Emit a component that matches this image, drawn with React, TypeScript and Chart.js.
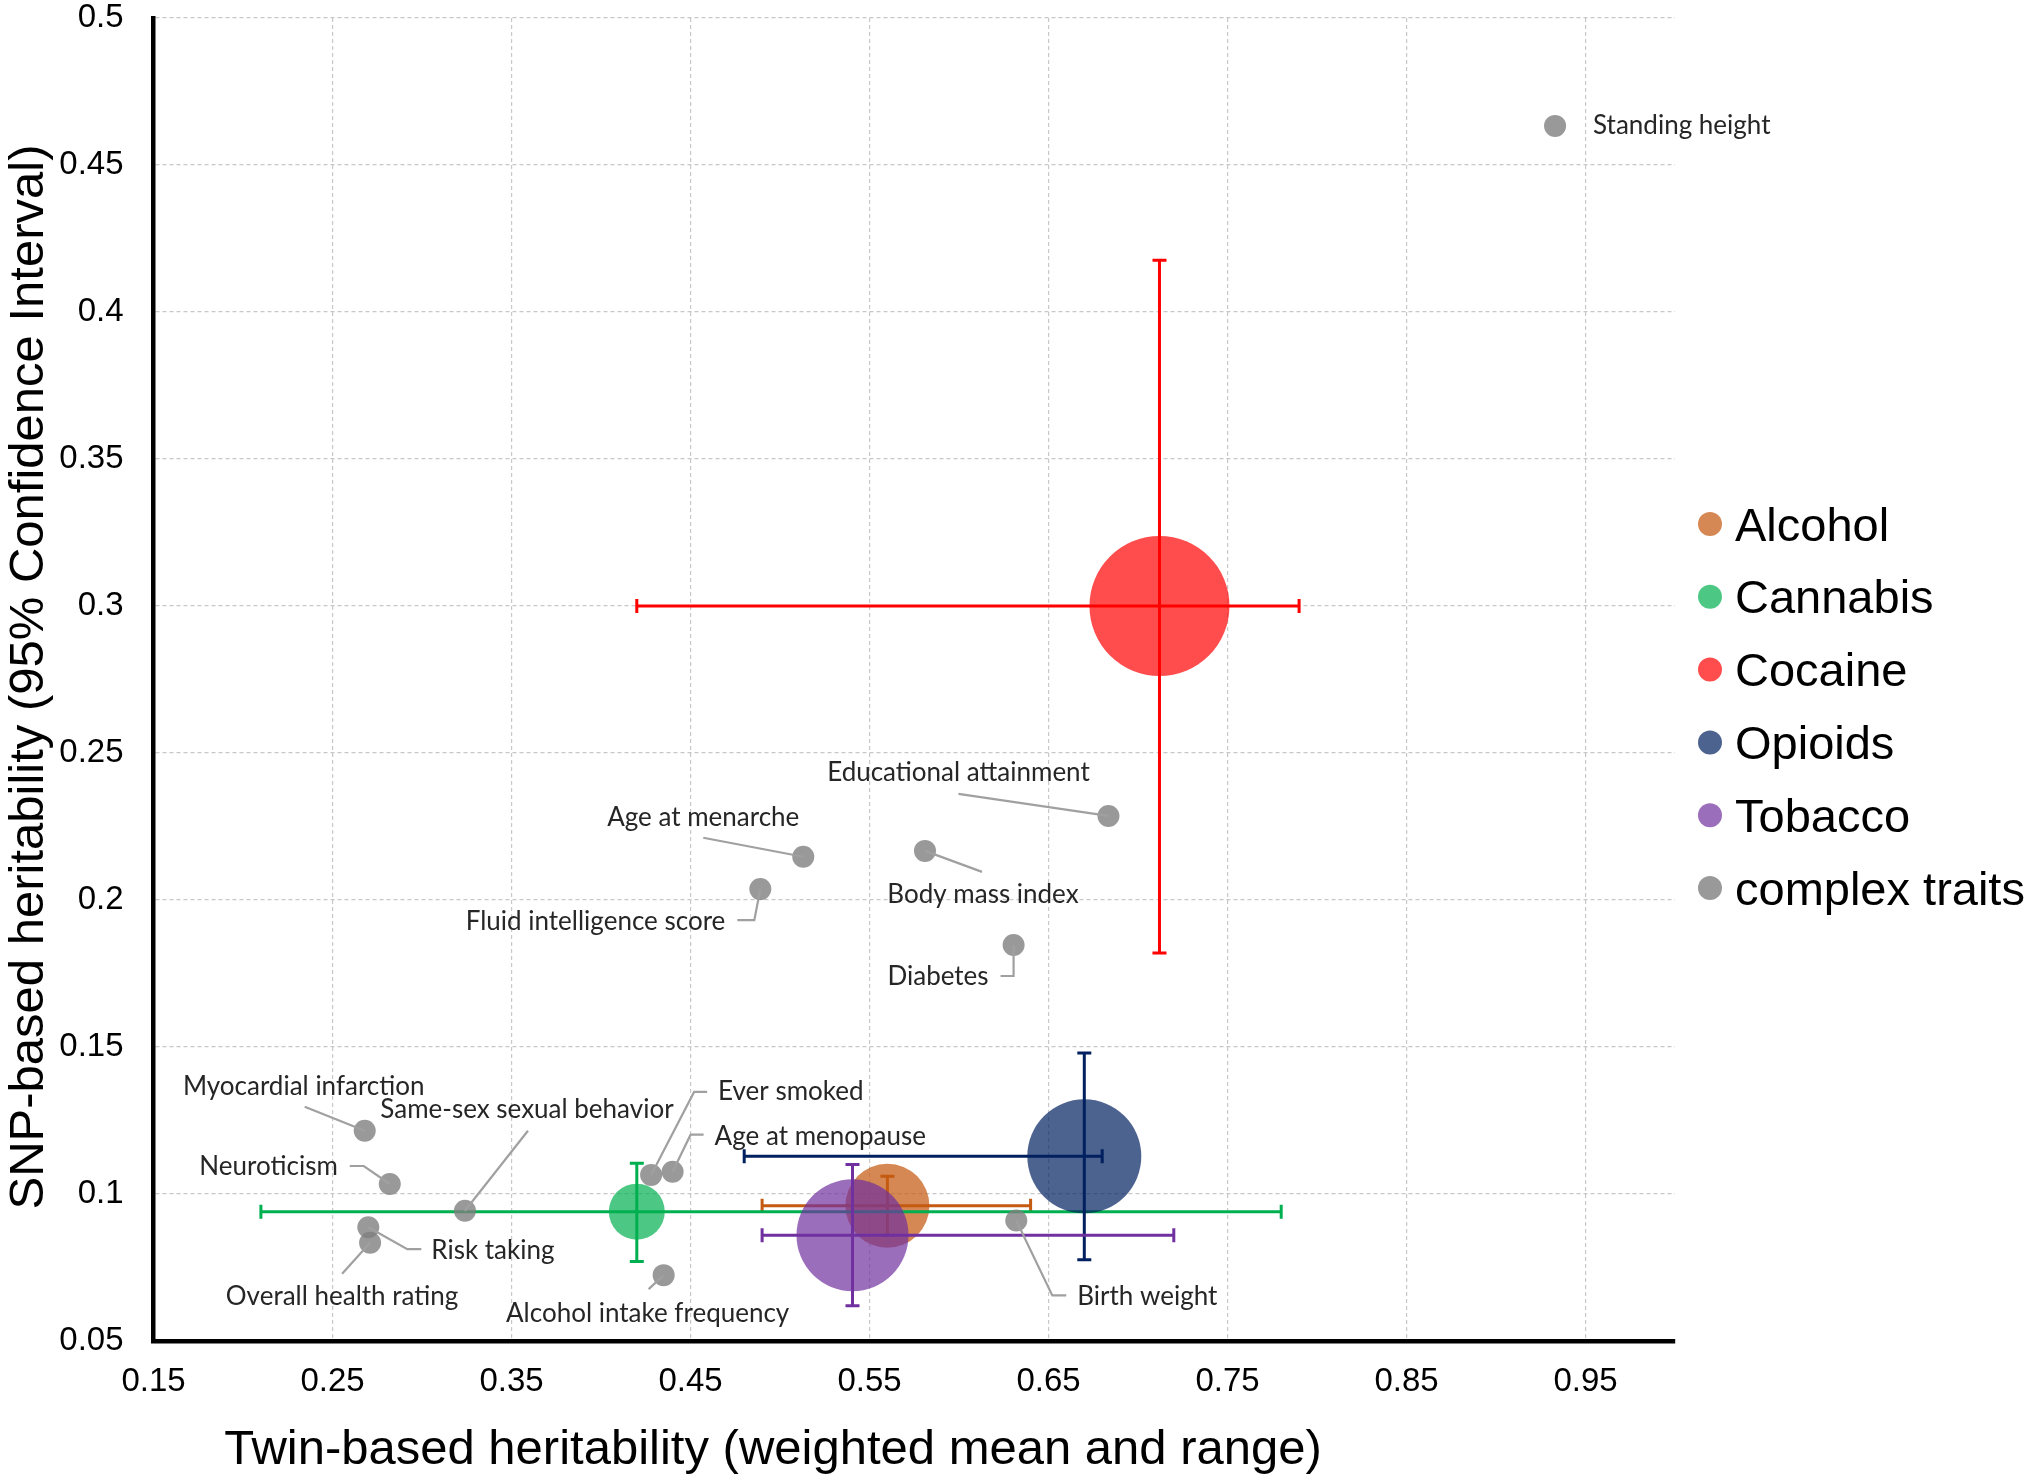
import React, { useEffect, useRef } from "react";
import { Chart, registerables } from "chart.js";

Chart.register(...registerables);

// ---------- DATA ----------
const groups = ["Alcohol", "Cannabis", "Cocaine", "Opioids", "Tobacco"];
const groupTwinH = [0.56, 0.42, 0.712, 0.67, 0.5405];
const groupSnpH = [0.096, 0.094, 0.3, 0.1128, 0.086];
const groupTwinLow = [0.49, 0.21, 0.42, 0.48, 0.49];
const groupTwinHigh = [0.64, 0.78, 0.79, 0.68, 0.72];
const groupSnpLow = [0.086, 0.077, 0.182, 0.0776, 0.062];
const groupSnpHigh = [0.106, 0.1105, 0.4176, 0.148, 0.11];
const groupBubbleSize = [42, 28, 70, 57, 56];

const traitSeriesName = "complex traits";
const traits = [
  "Standing height",
  "Educational attainment",
  "Age at menarche",
  "Body mass index",
  "Fluid intelligence score",
  "Diabetes",
  "Myocardial infarction",
  "Same-sex sexual behavior",
  "Neuroticism",
  "Risk taking",
  "Overall health rating",
  "Ever smoked",
  "Age at menopause",
  "Alcohol intake frequency",
  "Birth weight",
];
const traitTwinH = [0.933, 0.6835, 0.513, 0.581, 0.489, 0.6305, 0.268, 0.324, 0.282, 0.27, 0.271, 0.428, 0.44, 0.435, 0.632];
const traitSnpH = [0.4633, 0.2286, 0.2147, 0.2167, 0.2037, 0.1847, 0.1215, 0.0943, 0.1034, 0.0887, 0.0834, 0.1065, 0.1076, 0.0724, 0.091];

const xTicks = [0.15, 0.25, 0.35, 0.45, 0.55, 0.65, 0.75, 0.85, 0.95];
const yTicks = [0.05, 0.1, 0.15, 0.2, 0.25, 0.3, 0.35, 0.4, 0.45, 0.5];

const xTitle = "Twin-based heritability (weighted mean and range)";
const yTitle = "SNP-based heritability (95% Confidence Interval)";

// ---------- STYLE ----------
const groupFill = [
  "rgba(197,90,17,0.72)",
  "rgba(0,176,80,0.7)",
  "rgba(255,0,0,0.7)",
  "rgba(0,32,96,0.7)",
  "rgba(112,48,160,0.7)",
];
const groupBarColor = ["#C55A11", "#00B050", "#FF0000", "#002060", "#7030A0"];
const traitFill = "rgba(127,127,127,0.8)";
const traitRadius = 11;
const SANS = "'Liberation Sans', Arial, sans-serif";
const LABEL_FONT = "26px Lato, 'Open Sans', sans-serif";

// label layout relative to the point's pixel: text anchor offset, alignment, leader polyline
type LabelLayout = { dx: number; dy: number; align: CanvasTextAlign; leader: number[][] };
const labelLayout: Record<string, LabelLayout> = {
  "Standing height": { dx: 38, dy: 0, align: "left", leader: [] },
  "Educational attainment": { dx: -150, dy: -43, align: "center", leader: [[-150, -22]] },
  "Age at menarche": { dx: -100, dy: -39, align: "center", leader: [[-100, -19]] },
  "Body mass index": { dx: 58, dy: 44, align: "center", leader: [[57, 21]] },
  "Fluid intelligence score": { dx: -35, dy: 32, align: "right", leader: [[-6, 31], [-23, 31]] },
  "Diabetes": { dx: -25, dy: 32, align: "right", leader: [[0, 31], [-13, 31]] },
  "Myocardial infarction": { dx: -61, dy: -44, align: "center", leader: [[-60, -24]] },
  "Same-sex sexual behavior": { dx: 62, dy: -101, align: "center", leader: [[63, -80]] },
  "Neuroticism": { dx: -52, dy: -17, align: "right", leader: [[-26, -18], [-40, -18]] },
  "Risk taking": { dx: 63, dy: 23, align: "left", leader: [[39, 22], [53, 22]] },
  "Overall health rating": { dx: -28, dy: 54, align: "center", leader: [[-28, 31]] },
  "Ever smoked": { dx: 67, dy: -83, align: "left", leader: [[43, -83], [56, -83]] },
  "Age at menopause": { dx: 42, dy: -35, align: "left", leader: [[18, -37], [31, -37]] },
  "Alcohol intake frequency": { dx: -16, dy: 38, align: "center", leader: [[-15, 14]] },
  "Birth weight": { dx: 61, dy: 76, align: "left", leader: [[36, 75], [50, 75]] },
};

const fmt = (v: number) => String(+v.toFixed(2));

const errorBarPlugin = {
  id: "errorBars",
  afterDatasetDraw(chart: any, args: any) {
    const i = args.index;
    if (i >= groups.length) return;
    const { ctx } = chart;
    const x = chart.scales.x;
    const y = chart.scales.y;
    const cx = x.getPixelForValue(groupTwinH[i]);
    const cy = y.getPixelForValue(groupSnpH[i]);
    const xl = x.getPixelForValue(groupTwinLow[i]);
    const xh = x.getPixelForValue(groupTwinHigh[i]);
    const yl = y.getPixelForValue(groupSnpLow[i]);
    const yh = y.getPixelForValue(groupSnpHigh[i]);
    const cap = 7;
    ctx.save();
    ctx.strokeStyle = groupBarColor[i];
    ctx.lineWidth = 3;
    ctx.beginPath();
    ctx.moveTo(xl, cy);
    ctx.lineTo(xh, cy);
    ctx.moveTo(xl, cy - cap);
    ctx.lineTo(xl, cy + cap);
    ctx.moveTo(xh, cy - cap);
    ctx.lineTo(xh, cy + cap);
    ctx.moveTo(cx, yl);
    ctx.lineTo(cx, yh);
    ctx.moveTo(cx - cap, yl);
    ctx.lineTo(cx + cap, yl);
    ctx.moveTo(cx - cap, yh);
    ctx.lineTo(cx + cap, yh);
    ctx.stroke();
    ctx.restore();
  },
};

const decorPlugin = {
  id: "decor",
  afterDraw(chart: any) {
    const { ctx } = chart;
    const x = chart.scales.x;
    const y = chart.scales.y;

    // trait labels with leader lines
    ctx.save();
    traits.forEach((name, i) => {
      const px = x.getPixelForValue(traitTwinH[i]);
      const py = y.getPixelForValue(traitSnpH[i]);
      const lay = labelLayout[name];
      if (!lay) return;
      if (lay.leader.length) {
        ctx.strokeStyle = "#a0a0a0";
        ctx.lineWidth = 2.2;
        ctx.beginPath();
        ctx.moveTo(px, py);
        lay.leader.forEach(([dx, dy]) => ctx.lineTo(px + dx, py + dy));
        ctx.stroke();
      }
      ctx.fillStyle = "#262626";
      ctx.font = LABEL_FONT;
      ctx.textAlign = lay.align;
      ctx.textBaseline = "middle";
      ctx.fillText(name, px + lay.dx, py + lay.dy);
    });
    ctx.restore();

    // axis titles
    ctx.save();
    ctx.fillStyle = "#000";
    ctx.font = `49px ${SANS}`;
    ctx.textAlign = "center";
    ctx.textBaseline = "alphabetic";
    ctx.fillText(xTitle, 773, 1464);
    ctx.translate(43, 677);
    ctx.rotate(-Math.PI / 2);
    ctx.fillText(yTitle, 0, 0);
    ctx.restore();

    // legend
    const names = [...groups, traitSeriesName];
    const fills = [...groupFill, traitFill];
    ctx.save();
    ctx.font = `47px ${SANS}`;
    ctx.textAlign = "left";
    ctx.textBaseline = "alphabetic";
    names.forEach((n, i) => {
      const cy = 524 + i * 72.8;
      ctx.fillStyle = fills[i];
      ctx.beginPath();
      ctx.arc(1710, cy, 12, 0, Math.PI * 2);
      ctx.fill();
      ctx.fillStyle = "#000";
      ctx.fillText(n, 1735, cy + 16.5);
    });
    ctx.restore();
  },
};

export default function App() {
  const ref = useRef<HTMLCanvasElement | null>(null);

  useEffect(() => {
    if (!ref.current) return;
    const datasets: any[] = groups.map((g, i) => ({
      label: g,
      data: [{ x: groupTwinH[i], y: groupSnpH[i], r: groupBubbleSize[i] }],
      backgroundColor: groupFill[i],
      borderColor: "transparent",
      borderWidth: 0,
      hoverRadius: 0,
      order: 20 - i,
    }));
    datasets.push({
      label: traitSeriesName,
      data: traits.map((_, i) => ({ x: traitTwinH[i], y: traitSnpH[i], r: traitRadius })),
      backgroundColor: traitFill,
      borderColor: "transparent",
      borderWidth: 0,
      hoverRadius: 0,
      order: 1,
    });

    const chart = new Chart(ref.current, {
      type: "bubble",
      data: { datasets },
      options: {
        responsive: false,
        animation: false,
        devicePixelRatio: 1,
        layout: { autoPadding: false, padding: { left: 0, top: 18, right: 365, bottom: 0 } },
        plugins: { legend: { display: false }, tooltip: { enabled: false } },
        events: [],
        scales: {
          x: {
            type: "linear",
            min: 0.15,
            max: 1.0,
            afterBuildTicks: (s: any) => {
              s.ticks = xTicks.map((v) => ({ value: v }));
            },
            afterFit: (s: any) => {
              s.height = 140;
              s.paddingLeft = 0;
              s.paddingRight = 0;
            },
            ticks: {
              font: { size: 33, family: SANS },
              color: "#000",
              padding: 21,
              maxRotation: 0,
              autoSkip: false,
              callback: (v: any) => fmt(Number(v)),
            },
            grid: { color: "#c8c8c8", lineWidth: 1.2, drawTicks: false },
            border: { display: true, color: "#000", width: 4.5, dash: [4, 3] },
          },
          y: {
            type: "linear",
            min: 0.05,
            max: 0.5,
            afterBuildTicks: (s: any) => {
              s.ticks = yTicks.map((v) => ({ value: v }));
            },
            afterFit: (s: any) => {
              s.width = 153.5;
              s.paddingTop = 0;
              s.paddingBottom = 0;
            },
            ticks: {
              font: { size: 33, family: SANS },
              color: "#000",
              padding: 30,
              autoSkip: false,
              callback: (v: any) => fmt(Number(v)),
            },
            grid: { color: "#c8c8c8", lineWidth: 1.2, drawTicks: false },
            border: { display: true, color: "#000", width: 4.5, dash: [4, 3] },
          },
        },
      },
      plugins: [errorBarPlugin, decorPlugin],
    } as any);
    return () => chart.destroy();
  }, []);

  return (
    <div style={{ position: "absolute", left: 0, top: 0, width: 2040, height: 1481, background: "#fff" }}>
      <canvas ref={ref} width={2040} height={1481} style={{ display: "block", width: 2040, height: 1481 }} />
    </div>
  );
}
